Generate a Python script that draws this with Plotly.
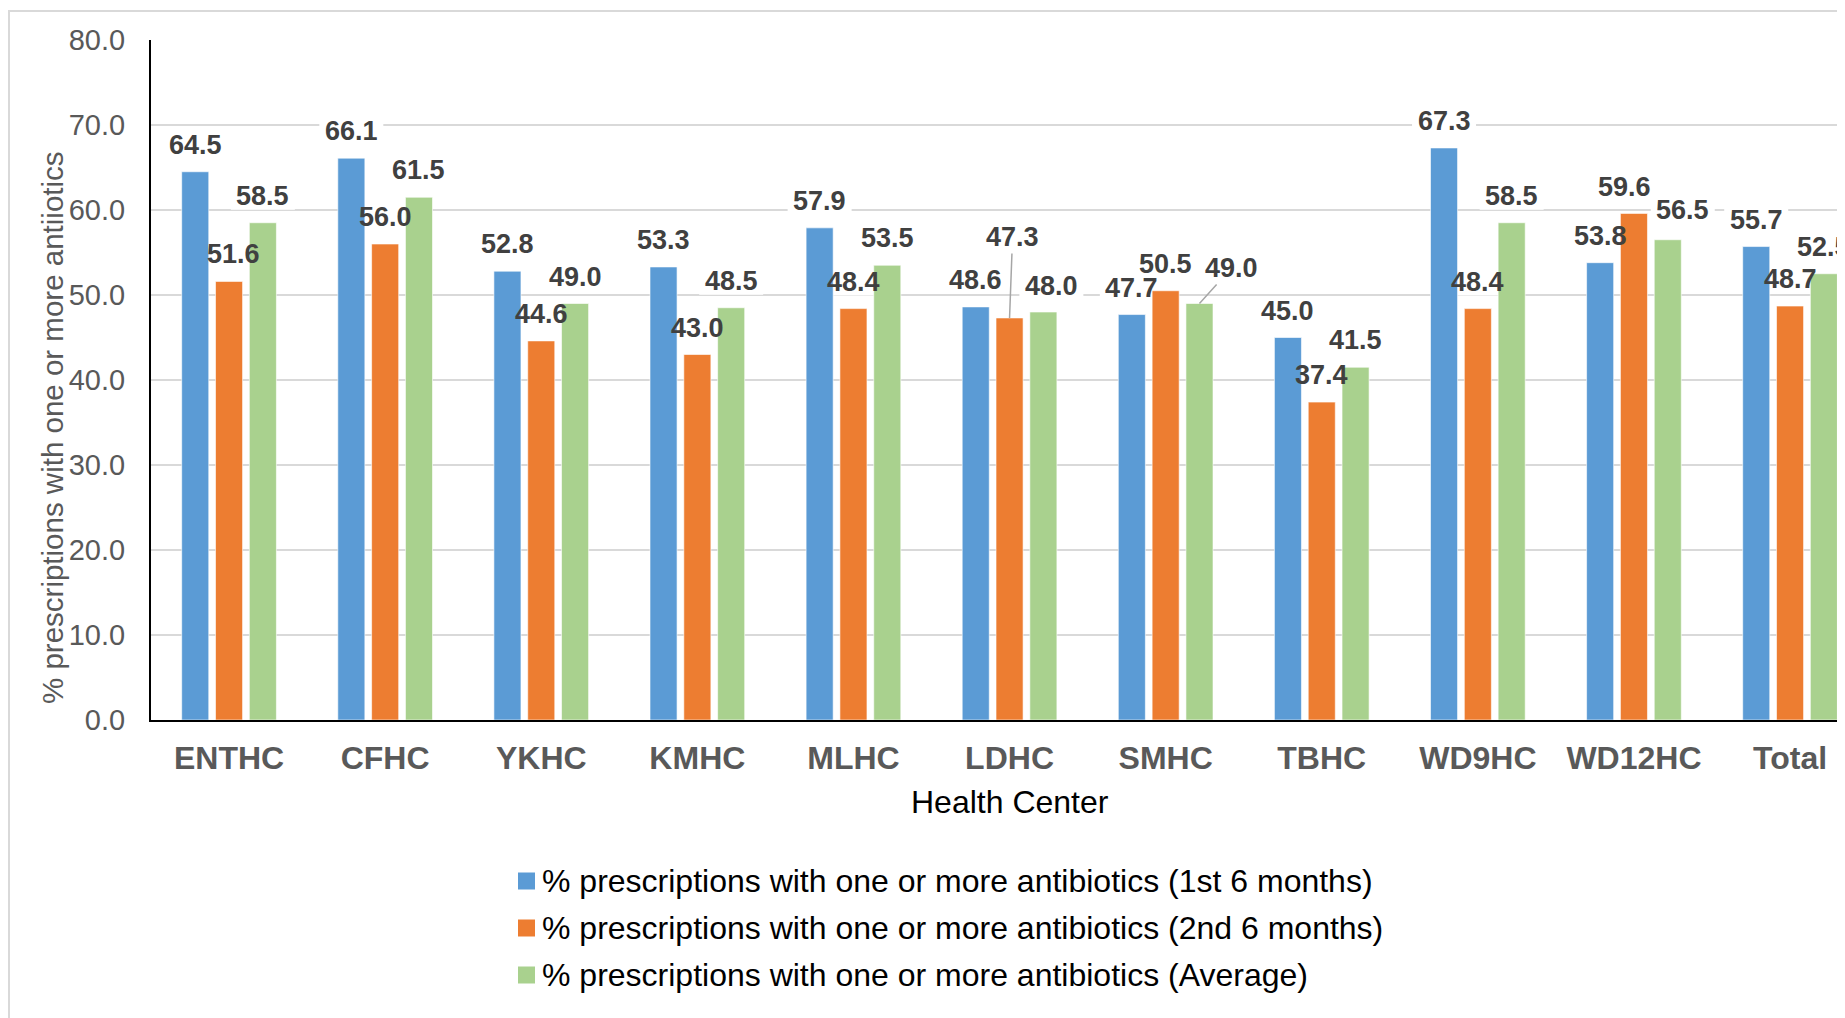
import plotly.graph_objects as go

# ---------------- data ----------------
categories = ["ENTHC", "CFHC", "YKHC", "KMHC", "MLHC", "LDHC", "SMHC",
              "TBHC", "WD9HC", "WD12HC", "Total"]
first_6_months = [64.5, 66.1, 52.8, 53.3, 57.9, 48.6, 47.7, 45.0, 67.3, 53.8, 55.7]
second_6_months = [51.6, 56.0, 44.6, 43.0, 48.4, 47.3, 50.5, 37.4, 48.4, 59.6, 48.7]
average = [58.5, 61.5, 49.0, 48.5, 53.5, 48.0, 49.0, 41.5, 58.5, 56.5, 52.5]
series_names = [
    "% prescriptions with one or more antibiotics (1st 6 months)",
    "% prescriptions with one or more antibiotics (2nd 6 months)",
    "% prescriptions with one or more antibiotics (Average)",
]
y_tick_values = [0, 10, 20, 30, 40, 50, 60, 70, 80]
x_title = "Health Center"
y_title = "% prescriptions with one or more antiiotics"

# ---------------- style ----------------
colors = ["#5B9BD5", "#ED7D31", "#A9D18E"]
FONT = "Arial, 'Liberation Sans', sans-serif"
OFF = 8  # page body margin
W, H = 1845, 1018
L, R, T = 151 - OFF, 0, 40 - OFF
B = H - (720 - OFF)
plot_w = W - L - R
plot_h = H - T - B
cat_px = 156.1
bargap = 0.35
bargroupgap = 0.2
slot = (1 - bargap) / 3

# label tweaks: (series, category) -> (dx px, dy px above bar top, leader line)
label_tweaks = {
    (1, 0): (4, 27, False),
    (1, 5): (3, 81, True),
    (2, 5): (8, 26, False),
    (2, 6): (32, 35.5, True),
    (1, 9): (-9, 26, False),
    (2, 9): (15, 29.5, False),
}

series = [first_6_months, second_6_months, average]

fig = go.Figure()
for s, (vals, name) in enumerate(zip(series, series_names)):
    fig.add_trace(go.Bar(
        x=categories, y=vals, name=name,
        marker=dict(color=colors[s], line=dict(color="rgba(255,255,255,0.6)", width=1)),
        showlegend=False,
    ))

LABEL_FONT = dict(family=FONT, size=27, color="#404040", weight="bold")
annotations = []
shapes = []
for s, vals in enumerate(series):
    for i, v in enumerate(vals):
        dx, dy, leader = label_tweaks.get((s, i), (0, 27, False))
        xpos = i + (s - 1) * slot
        txt = f"{v:.1f}"
        # white label background (hides gridlines, stays under bars)
        shapes.append(dict(
            type="rect", layer="between", xref="x", yref="y",
            xsizemode="pixel", ysizemode="pixel",
            xanchor=xpos, yanchor=v,
            x0=dx - 32, x1=dx + 32, y0=dy - 14, y1=dy + 14,
            fillcolor="white", line=dict(width=0),
        ))
        if leader:
            annotations.append(dict(
                x=xpos, y=v, xref="x", yref="y", text=txt,
                showarrow=True, ax=dx, ay=-dy, arrowhead=0, arrowwidth=1.5,
                arrowcolor="#A6A6A6", standoff=0, font=LABEL_FONT,
            ))
        else:
            annotations.append(dict(
                x=xpos, y=v, xref="x", yref="y", text=txt,
                showarrow=False, xshift=dx, yshift=dy, yanchor="middle",
                font=LABEL_FONT,
            ))

def px_to_paper_x(vx):
    return (vx - OFF - L) / plot_w

def px_to_paper_y(vy):
    return (H - B - (vy - OFF)) / plot_h

# outer chart border
shapes.append(dict(type="rect", xref="paper", yref="paper",
                   x0=px_to_paper_x(9), x1=px_to_paper_x(1900),
                   y0=px_to_paper_y(1100), y1=px_to_paper_y(11),
                   line=dict(color="#D9D9D9", width=2), fillcolor="rgba(0,0,0,0)",
                   layer="below"))

# axis titles
annotations.append(dict(
    x=px_to_paper_x(151 + 11 * cat_px / 2), y=px_to_paper_y(802),
    xref="paper", yref="paper", text=x_title, showarrow=False,
    xanchor="center", yanchor="middle",
    font=dict(family=FONT, size=32, color="#000000"),
))
annotations.append(dict(
    x=px_to_paper_x(52), y=px_to_paper_y(428),
    xref="paper", yref="paper", text=y_title, showarrow=False,
    textangle=-90, xanchor="center", yanchor="middle",
    font=dict(family=FONT, size=29.5, color="#595959"),
))

# manual legend
legend_rows = [881, 928, 975]
for s, name in enumerate(series_names):
    yc = legend_rows[s]
    shapes.append(dict(type="rect", xref="paper", yref="paper",
                       x0=px_to_paper_x(518), x1=px_to_paper_x(535),
                       y0=px_to_paper_y(yc + 8.5), y1=px_to_paper_y(yc - 8.5),
                       fillcolor=colors[s], line=dict(width=0)))
    annotations.append(dict(
        x=px_to_paper_x(540), y=px_to_paper_y(yc), xref="paper", yref="paper",
        text=name, showarrow=False, xanchor="left", yanchor="middle",
        font=dict(family=FONT, size=32, color="#000000"),
    ))

fig.update_layout(
    width=W, height=H, autosize=False,
    margin=dict(l=L, r=R, t=T, b=B, pad=0),
    paper_bgcolor="white", plot_bgcolor="white",
    barmode="group", bargap=bargap, bargroupgap=bargroupgap,
    annotations=annotations, shapes=shapes,
    showlegend=False,
)
fig.update_xaxes(
    type="category", range=[-0.5, -0.5 + plot_w / cat_px],
    showline=True, linecolor="#000000", linewidth=2,
    showgrid=False, ticks="", ticklabelstandoff=9,
    tickfont=dict(family=FONT, size=32, color="#595959", weight="bold"),
)
fig.update_yaxes(
    range=[0, 80], tickvals=y_tick_values, tickformat=".1f",
    showline=True, linecolor="#000000", linewidth=2,
    showgrid=True, gridcolor="#D9D9D9", gridwidth=1.5, zeroline=False,
    ticks="", ticklabelstandoff=18,
    tickfont=dict(family=FONT, size=29, color="#595959"),
)

fig.write_html("out.html")
